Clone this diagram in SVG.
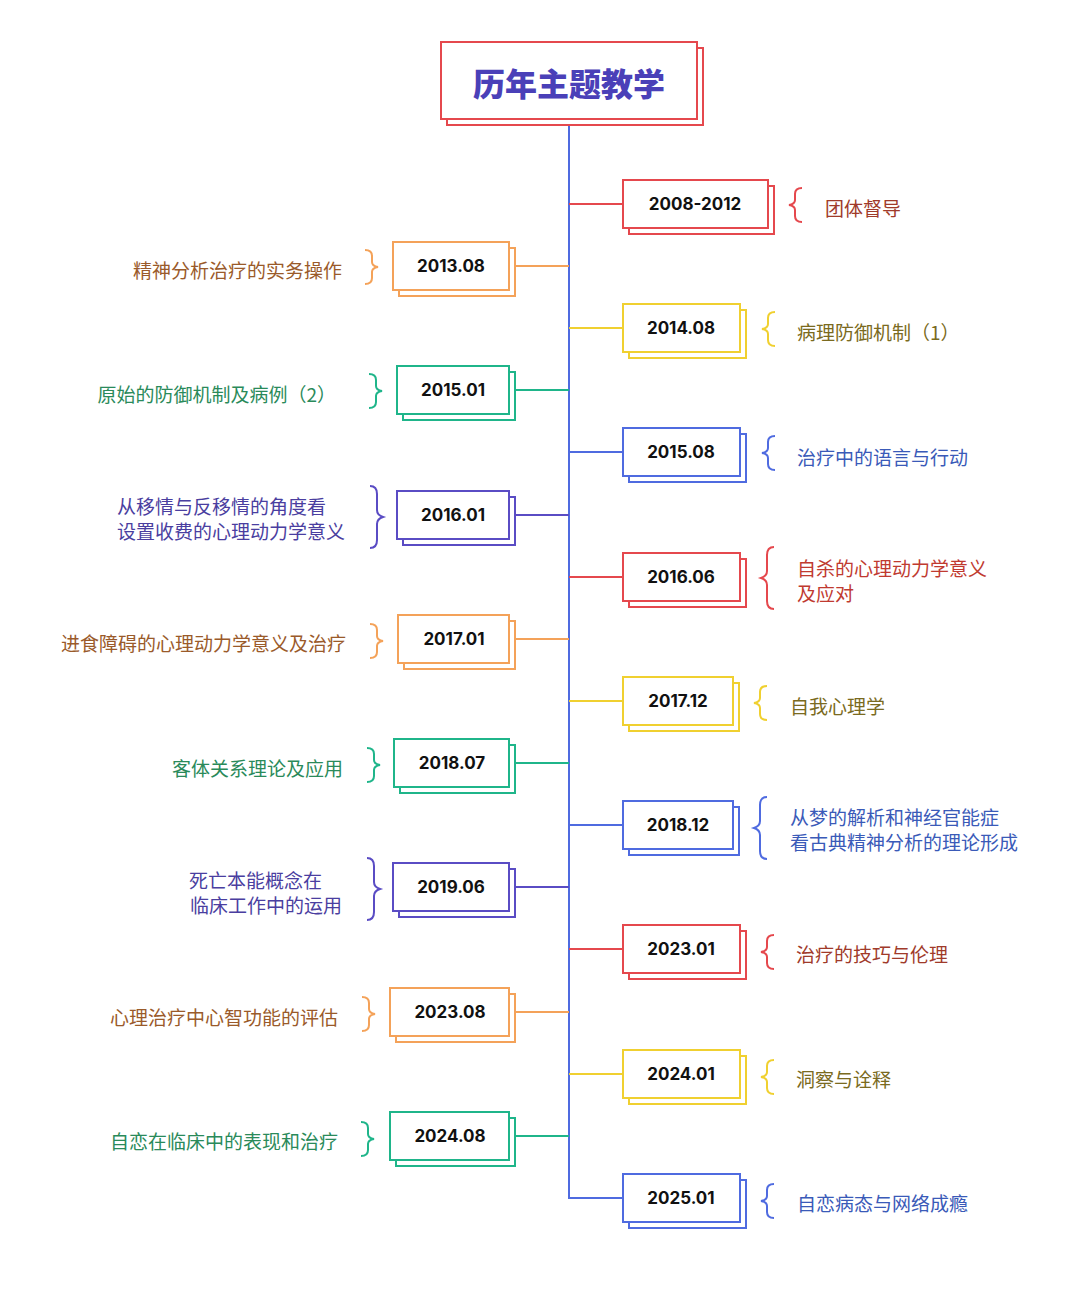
<svg xmlns="http://www.w3.org/2000/svg" width="1080" height="1292" viewBox="0 0 1080 1292">
<style>
.d{font-family:Inter,"Noto Sans",sans-serif;font-weight:700;font-size:17px;fill:#111;text-anchor:middle;dominant-baseline:central}
.t{font-family:"Noto Sans CJK SC",sans-serif;font-size:19px;dominant-baseline:central}
.l{text-anchor:end}
rect{fill:#fff;stroke-width:2}
path{fill:none;stroke-width:2}
.red{stroke:#e5484d}.yel{stroke:#f0d030}.blu{stroke:#4f6be0}.ora{stroke:#f4a259}.grn{stroke:#1fb58a}.pur{stroke:#5a4cc4}
</style>
<rect width="1080" height="1292" fill="#fff" stroke="none"/>
<g id="connectors">
<path d="M569 120V1198H623" class="blu"/>
<path d="M569 204H623" class="red"/><path d="M569 328H623" class="yel"/><path d="M569 452H623" class="blu"/>
<path d="M569 577H623" class="red"/><path d="M569 701H623" class="yel"/><path d="M569 825H623" class="blu"/>
<path d="M569 949H623" class="red"/><path d="M569 1074H623" class="yel"/>
<path d="M515 266H569" class="ora"/><path d="M515 390H569" class="grn"/><path d="M515 515H569" class="pur"/>
<path d="M515 639H569" class="ora"/><path d="M515 763H569" class="grn"/><path d="M515 887H569" class="pur"/>
<path d="M515 1012H569" class="ora"/><path d="M515 1136H569" class="grn"/>
</g>
<g id="title">
<rect x="447" y="48" width="256" height="77" class="red"/>
<rect x="441" y="42" width="256" height="77" class="red"/>
<text x="569" y="82" style="font-family:'Noto Sans CJK SC',sans-serif;font-weight:900;font-size:32px;fill:#4a40b8;text-anchor:middle;dominant-baseline:central">历年主题教学</text>
</g>
<g id="n1"><rect x="629" y="186" width="145" height="48" class="red"/><rect x="623" y="180" width="145" height="48" class="red"/><text x="695" y="204" class="d">2008-2012</text>
<path d="M802 188Q795 188 795 194V200Q795 204 789 205Q795 206 795 210V216Q795 222 802 222" class="red"/><text x="825" y="207" class="t" fill="#a03a2a">团体督导</text></g>
<g id="n2"><rect x="399" y="248" width="116" height="48" class="ora"/><rect x="393" y="242" width="116" height="48" class="ora"/><text x="451" y="266" class="d">2013.08</text>
<path d="M365 250Q372 250 372 256V262Q372 266 378 267Q372 268 372 272V278Q372 284 365 284" class="ora"/><text x="342" y="269" class="t l" fill="#9a5a2a">精神分析治疗的实务操作</text></g>
<g id="n3"><rect x="629" y="310" width="117" height="48" class="yel"/><rect x="623" y="304" width="117" height="48" class="yel"/><text x="681" y="328" class="d">2014.08</text>
<path d="M775 312Q768 312 768 318V324Q768 328 762 329Q768 330 768 334V340Q768 346 775 346" class="yel"/><text x="797" y="331" class="t" fill="#7a6a20">病理防御机制（1）</text></g>
<g id="n4"><rect x="403" y="372" width="112" height="48" class="grn"/><rect x="397" y="366" width="112" height="48" class="grn"/><text x="453" y="390" class="d">2015.01</text>
<path d="M369 374Q376 374 376 380V386Q376 390 382 391Q376 392 376 396V402Q376 408 369 408" class="grn"/><text x="336" y="393" class="t l" fill="#2a8a5a">原始的防御机制及病例（2）</text></g>
<g id="n5"><rect x="629" y="434" width="117" height="48" class="blu"/><rect x="623" y="428" width="117" height="48" class="blu"/><text x="681" y="452" class="d">2015.08</text>
<path d="M775 436Q768 436 768 442V448Q768 452 762 453Q768 454 768 458V464Q768 470 775 470" class="blu"/><text x="797" y="456" class="t" fill="#3a5ab8">治疗中的语言与行动</text></g>
<g id="n6"><rect x="403" y="497" width="112" height="48" class="pur"/><rect x="397" y="491" width="112" height="48" class="pur"/><text x="453" y="515" class="d">2016.01</text>
<path d="M370 486Q377 486 377 494V510Q377 515 383 517Q377 519 377 524V540Q377 548 370 548" class="pur"/><text x="326" y="505" class="t l" fill="#4a3ea0">从移情与反移情的角度看</text><text x="345" y="530" class="t l" fill="#4a3ea0">设置收费的心理动力学意义</text></g>
<g id="n7"><rect x="629" y="559" width="117" height="48" class="red"/><rect x="623" y="553" width="117" height="48" class="red"/><text x="681" y="577" class="d">2016.06</text>
<path d="M774 547Q767 547 767 555V571Q767 576 761 578Q767 580 767 585V601Q767 609 774 609" class="red"/><text x="797" y="567" class="t" fill="#c03a30">自杀的心理动力学意义</text><text x="797" y="592" class="t" fill="#c03a30">及应对</text></g>
<g id="n8"><rect x="404" y="621" width="111" height="48" class="ora"/><rect x="398" y="615" width="111" height="48" class="ora"/><text x="454" y="639" class="d">2017.01</text>
<path d="M370 624Q377 624 377 630V636Q377 640 383 641Q377 642 377 646V652Q377 658 370 658" class="ora"/><text x="346" y="642" class="t l" fill="#9a5a2a">进食障碍的心理动力学意义及治疗</text></g>
<g id="n9"><rect x="629" y="683" width="110" height="48" class="yel"/><rect x="623" y="677" width="110" height="48" class="yel"/><text x="678" y="701" class="d">2017.12</text>
<path d="M767 686Q760 686 760 692V698Q760 702 754 703Q760 704 760 708V714Q760 720 767 720" class="yel"/><text x="790" y="705" class="t" fill="#7a6a20">自我心理学</text></g>
<g id="n10"><rect x="400" y="745" width="115" height="48" class="grn"/><rect x="394" y="739" width="115" height="48" class="grn"/><text x="452" y="763" class="d">2018.07</text>
<path d="M367 748Q374 748 374 754V760Q374 764 380 765Q374 766 374 770V776Q374 782 367 782" class="grn"/><text x="343" y="767" class="t l" fill="#2a8a5a">客体关系理论及应用</text></g>
<g id="n11"><rect x="629" y="807" width="110" height="48" class="blu"/><rect x="623" y="801" width="110" height="48" class="blu"/><text x="678" y="825" class="d">2018.12</text>
<path d="M767 797Q760 797 760 805V821Q760 826 754 828Q760 830 760 835V851Q760 859 767 859" class="blu"/><text x="790" y="816" class="t" fill="#3a5ab8">从梦的解析和神经官能症</text><text x="790" y="841" class="t" fill="#3a5ab8">看古典精神分析的理论形成</text></g>
<g id="n12"><rect x="399" y="869" width="116" height="48" class="pur"/><rect x="393" y="863" width="116" height="48" class="pur"/><text x="451" y="887" class="d">2019.06</text>
<path d="M367 858Q374 858 374 866V882Q374 887 380 889Q374 891 374 896V912Q374 920 367 920" class="pur"/><text x="322" y="879" class="t l" fill="#4a3ea0">死亡本能概念在</text><text x="342" y="904" class="t l" fill="#4a3ea0">临床工作中的运用</text></g>
<g id="n13"><rect x="629" y="931" width="117" height="48" class="red"/><rect x="623" y="925" width="117" height="48" class="red"/><text x="681" y="949" class="d">2023.01</text>
<path d="M774 935Q767 935 767 941V947Q767 951 761 952Q767 953 767 957V963Q767 969 774 969" class="red"/><text x="796" y="953" class="t" fill="#a03a2a">治疗的技巧与伦理</text></g>
<g id="n14"><rect x="396" y="994" width="119" height="48" class="ora"/><rect x="390" y="988" width="119" height="48" class="ora"/><text x="450" y="1012" class="d">2023.08</text>
<path d="M362 997Q369 997 369 1003V1009Q369 1013 375 1014Q369 1015 369 1019V1025Q369 1031 362 1031" class="ora"/><text x="338" y="1016" class="t l" fill="#9a5a2a">心理治疗中心智功能的评估</text></g>
<g id="n15"><rect x="629" y="1056" width="117" height="48" class="yel"/><rect x="623" y="1050" width="117" height="48" class="yel"/><text x="681" y="1074" class="d">2024.01</text>
<path d="M774 1060Q767 1060 767 1066V1072Q767 1076 761 1077Q767 1078 767 1082V1088Q767 1094 774 1094" class="yel"/><text x="796" y="1078" class="t" fill="#7a6a20">洞察与诠释</text></g>
<g id="n16"><rect x="396" y="1118" width="119" height="48" class="grn"/><rect x="390" y="1112" width="119" height="48" class="grn"/><text x="450" y="1136" class="d">2024.08</text>
<path d="M361 1122Q368 1122 368 1128V1134Q368 1138 374 1139Q368 1140 368 1144V1150Q368 1156 361 1156" class="grn"/><text x="338" y="1140" class="t l" fill="#2a8a5a">自恋在临床中的表现和治疗</text></g>
<g id="n17"><rect x="629" y="1180" width="117" height="48" class="blu"/><rect x="623" y="1174" width="117" height="48" class="blu"/><text x="681" y="1198" class="d">2025.01</text>
<path d="M774 1184Q767 1184 767 1190V1196Q767 1200 761 1201Q767 1202 767 1206V1212Q767 1218 774 1218" class="blu"/><text x="797" y="1202" class="t" fill="#3a5ab8">自恋病态与网络成瘾</text></g>
</svg>
